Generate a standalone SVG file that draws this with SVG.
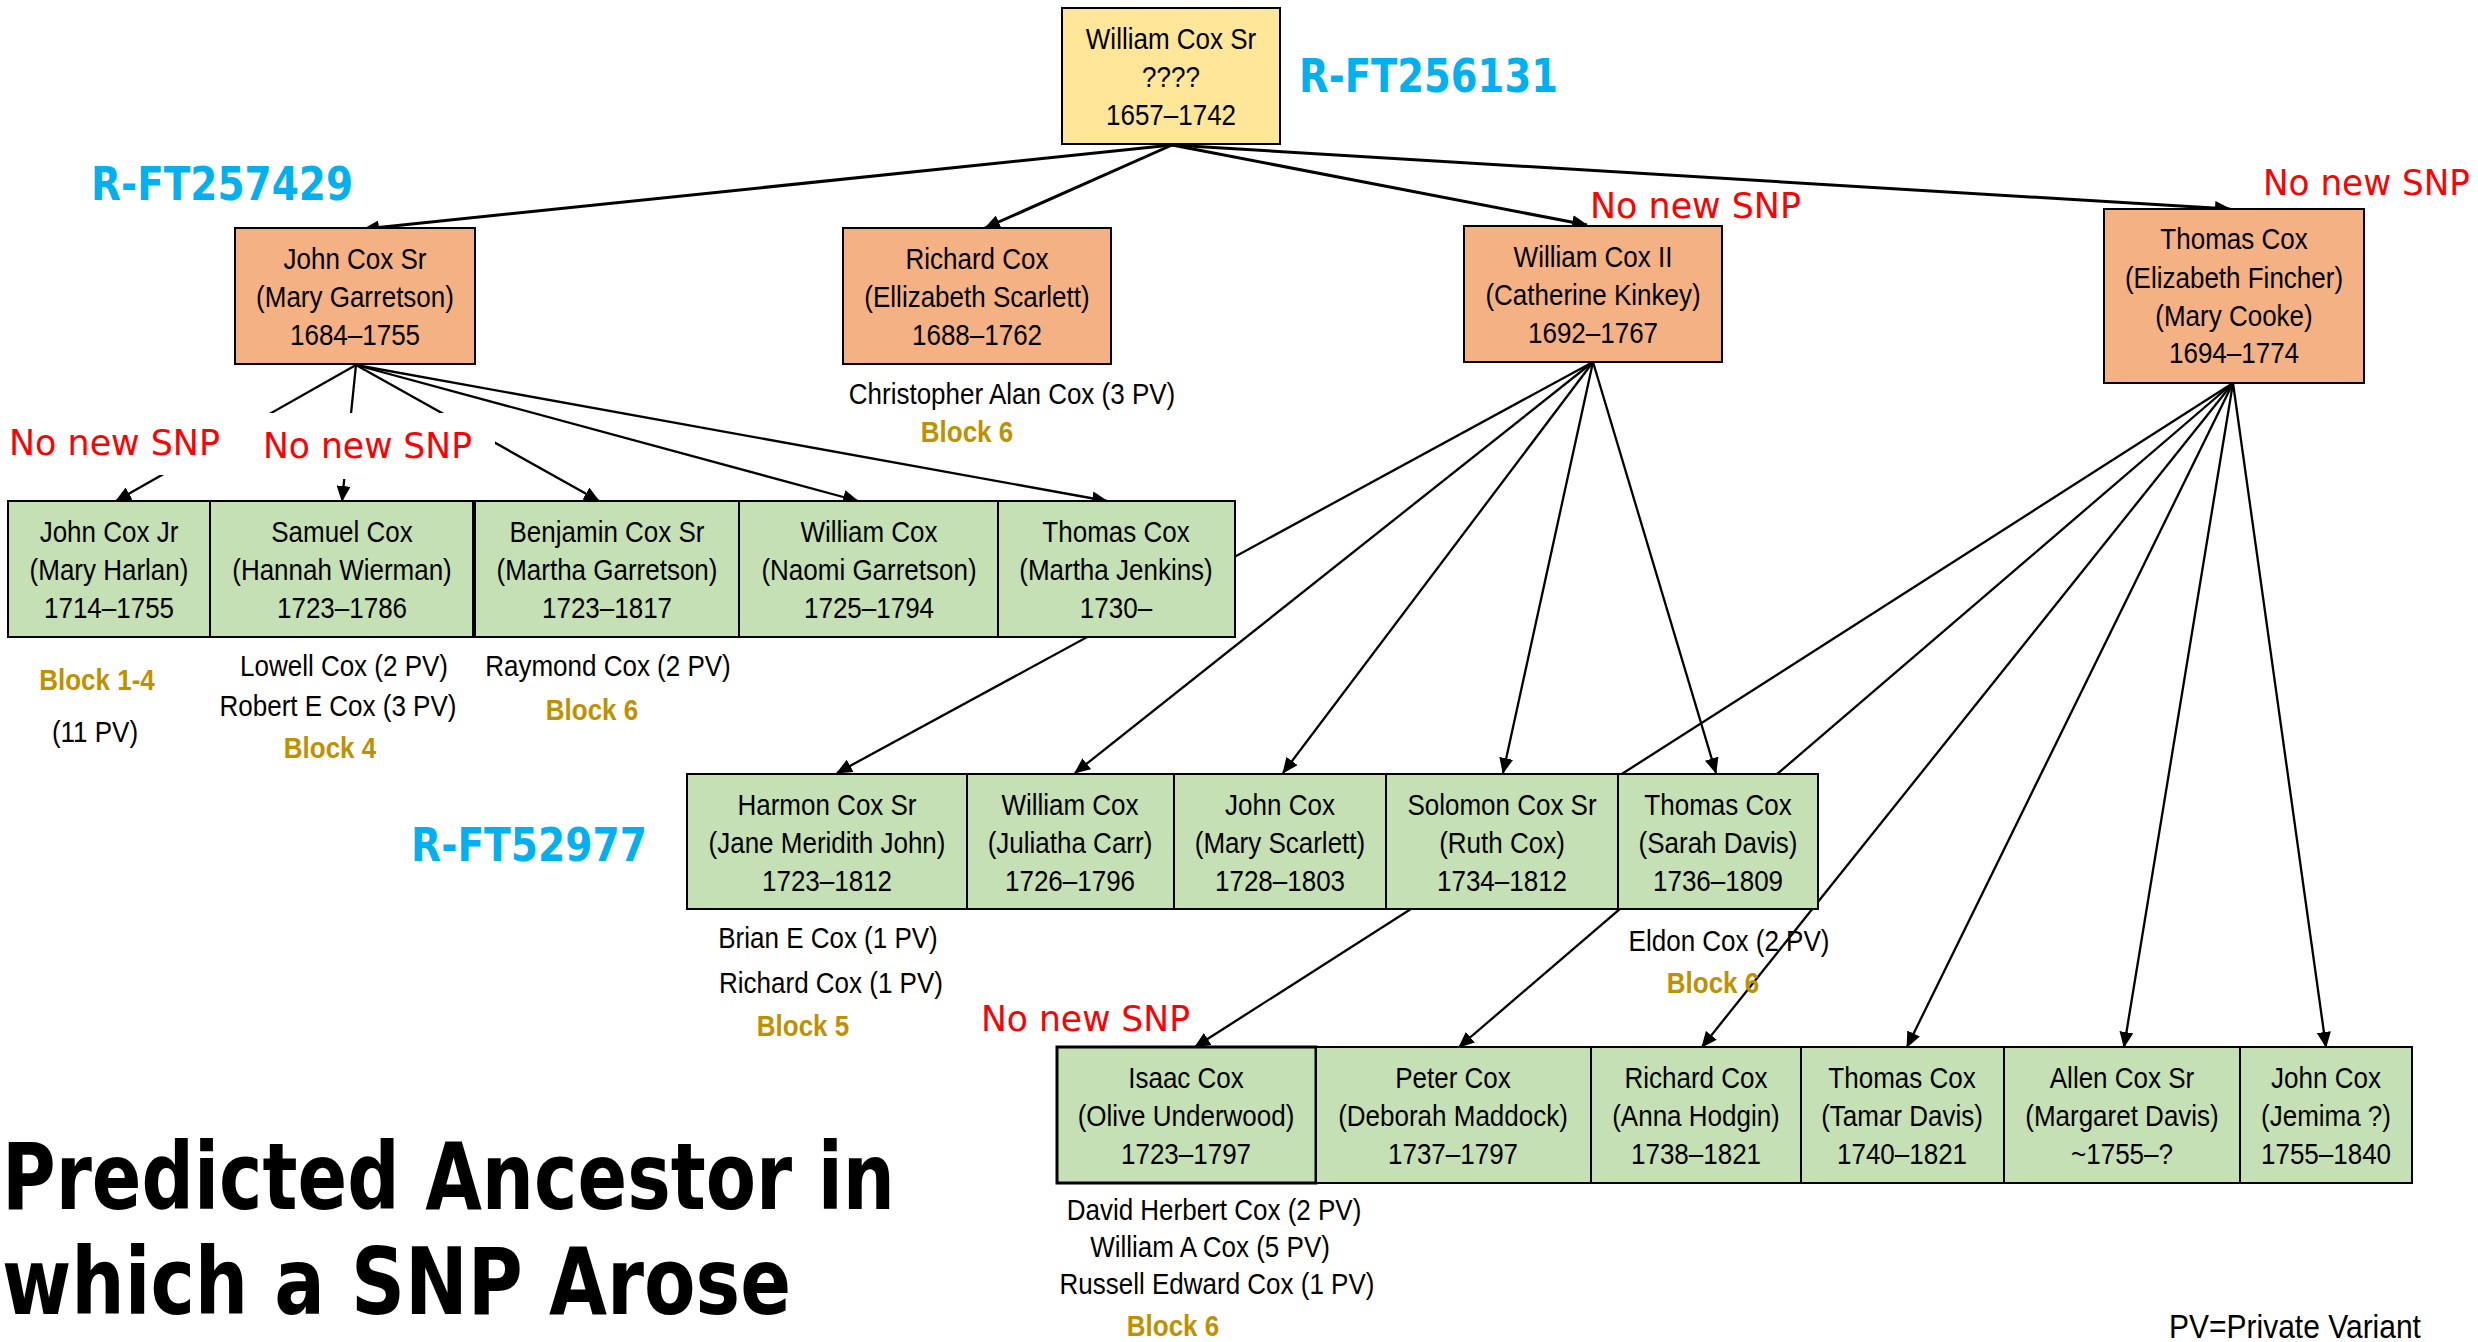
<svg xmlns="http://www.w3.org/2000/svg" width="2478" height="1342" viewBox="0 0 2478 1342">
<defs>
<marker id="arr" markerUnits="userSpaceOnUse" markerWidth="16" markerHeight="14" refX="15" refY="7" orient="auto">
<path d="M0,0 L16,7 L0,14 z" fill="#000"/>
</marker>
<style>
.box{stroke:#000;stroke-width:2}
.root{fill:#FFE699}
.gen1{fill:#F4B183}
.gen2{fill:#C5E0B4}
.t{font-family:"Liberation Sans",Arial,sans-serif;font-size:26px;fill:#000;text-anchor:middle}
.blk{font-family:"Liberation Sans",Arial,sans-serif;font-size:26px;font-weight:bold;fill:#BF9000;text-anchor:middle}
.snp{font-family:"DejaVu Sans",sans-serif;font-size:36px;fill:#FF0000}
.hap{font-family:"DejaVu Sans",sans-serif;font-size:46px;font-weight:bold;fill:#00B0F0}
.title{font-family:"DejaVu Sans",sans-serif;font-size:92px;font-weight:bold;fill:#000}
.c{fill:none;stroke:#000;marker-end:url(#arr)}
.c3{stroke-width:3}
.c2{stroke-width:2.3}
.mask{fill:#fff}
</style>
</defs>
<rect width="2478" height="1342" fill="#fff"/>

<g id="connectors">
<line class="c c3" x1="1172" y1="145" x2="364" y2="229"/>
<line class="c c3" x1="1172" y1="145" x2="985" y2="228"/>
<line class="c c3" x1="1172" y1="145" x2="1587" y2="225"/>
<line class="c c3" x1="1172" y1="145" x2="2230" y2="209"/>
<line class="c c2" x1="356" y1="365" x2="116" y2="501"/>
<line class="c c2" x1="356" y1="365" x2="342" y2="501"/>
<line class="c c2" x1="356" y1="365" x2="599" y2="501"/>
<line class="c c2" x1="356" y1="365" x2="858" y2="501"/>
<line class="c c2" x1="356" y1="365" x2="1107" y2="501"/>
<line class="c c2" x1="1593" y1="362" x2="837" y2="773"/>
<line class="c c2" x1="1593" y1="362" x2="1075" y2="773"/>
<line class="c c2" x1="1593" y1="362" x2="1283" y2="773"/>
<line class="c c2" x1="1593" y1="362" x2="1503" y2="773"/>
<line class="c c2" x1="1593" y1="362" x2="1716" y2="773"/>
<line class="c c2" x1="2233" y1="383" x2="1195" y2="1047"/>
<line class="c c2" x1="2233" y1="383" x2="1459" y2="1047"/>
<line class="c c2" x1="2233" y1="383" x2="1702" y2="1047"/>
<line class="c c2" x1="2233" y1="383" x2="1907" y2="1047"/>
<line class="c c2" x1="2233" y1="383" x2="2124" y2="1047"/>
<line class="c c2" x1="2233" y1="383" x2="2326" y2="1047"/>
</g>

<g id="n-william-cox-sr">
<rect class="box root" x="1062" y="8" width="218" height="136"/>
<text class="t" transform="translate(1171 49) scale(1 1.16)">William Cox Sr</text>
<text class="t" transform="translate(1171 87) scale(1 1.16)">????</text>
<text class="t" transform="translate(1171 125) scale(1 1.16)">1657–1742</text>
</g>

<g id="n-john-cox-sr">
<rect class="box gen1" x="235" y="228" width="240" height="136"/>
<text class="t" transform="translate(355 269) scale(1 1.16)">John Cox Sr</text>
<text class="t" transform="translate(355 307) scale(1 1.16)">(Mary Garretson)</text>
<text class="t" transform="translate(355 345) scale(1 1.16)">1684–1755</text>
</g>
<g id="n-richard-cox">
<rect class="box gen1" x="843" y="228" width="268" height="136"/>
<text class="t" transform="translate(977 269) scale(1 1.16)">Richard Cox</text>
<text class="t" transform="translate(977 307) scale(1 1.16)">(Ellizabeth Scarlett)</text>
<text class="t" transform="translate(977 345) scale(1 1.16)">1688–1762</text>
</g>
<g id="n-william-cox-ii">
<rect class="box gen1" x="1464" y="226" width="258" height="136"/>
<text class="t" transform="translate(1593 267) scale(1 1.16)">William Cox II</text>
<text class="t" transform="translate(1593 305) scale(1 1.16)">(Catherine Kinkey)</text>
<text class="t" transform="translate(1593 343) scale(1 1.16)">1692–1767</text>
</g>
<g id="n-thomas-cox-1694">
<rect class="box gen1" x="2104" y="209" width="260" height="174"/>
<text class="t" transform="translate(2234 249) scale(1 1.16)">Thomas Cox</text>
<text class="t" transform="translate(2234 288) scale(1 1.16)">(Elizabeth Fincher)</text>
<text class="t" transform="translate(2234 326) scale(1 1.16)">(Mary Cooke)</text>
<text class="t" transform="translate(2234 363) scale(1 1.16)">1694–1774</text>
</g>

<g id="n-john-cox-jr">
<rect class="box gen2" x="8" y="501" width="202" height="136"/>
<text class="t" transform="translate(109 542) scale(1 1.16)">John Cox Jr</text>
<text class="t" transform="translate(109 580) scale(1 1.16)">(Mary Harlan)</text>
<text class="t" transform="translate(109 618) scale(1 1.16)">1714–1755</text>
</g>
<g id="n-samuel-cox">
<rect class="box gen2" x="210" y="501" width="263" height="136"/>
<text class="t" transform="translate(342 542) scale(1 1.16)">Samuel Cox</text>
<text class="t" transform="translate(342 580) scale(1 1.16)">(Hannah Wierman)</text>
<text class="t" transform="translate(342 618) scale(1 1.16)">1723–1786</text>
</g>
<g id="n-benjamin-cox-sr">
<rect class="box gen2" x="475" y="501" width="264" height="136"/>
<text class="t" transform="translate(607 542) scale(1 1.16)">Benjamin Cox Sr</text>
<text class="t" transform="translate(607 580) scale(1 1.16)">(Martha Garretson)</text>
<text class="t" transform="translate(607 618) scale(1 1.16)">1723–1817</text>
</g>
<g id="n-william-cox-1725">
<rect class="box gen2" x="739" y="501" width="259" height="136"/>
<text class="t" transform="translate(869 542) scale(1 1.16)">William Cox</text>
<text class="t" transform="translate(869 580) scale(1 1.16)">(Naomi Garretson)</text>
<text class="t" transform="translate(869 618) scale(1 1.16)">1725–1794</text>
</g>
<g id="n-thomas-cox-1730">
<rect class="box gen2" x="998" y="501" width="237" height="136"/>
<text class="t" transform="translate(1116 542) scale(1 1.16)">Thomas Cox</text>
<text class="t" transform="translate(1116 580) scale(1 1.16)">(Martha Jenkins)</text>
<text class="t" transform="translate(1116 618) scale(1 1.16)">1730–</text>
</g>

<g id="n-harmon-cox-sr">
<rect class="box gen2" x="687" y="774" width="280" height="135"/>
<text class="t" transform="translate(827 815) scale(1 1.16)">Harmon Cox Sr</text>
<text class="t" transform="translate(827 853) scale(1 1.16)">(Jane Meridith John)</text>
<text class="t" transform="translate(827 891) scale(1 1.16)">1723–1812</text>
</g>
<g id="n-william-cox-1726">
<rect class="box gen2" x="967" y="774" width="207" height="135"/>
<text class="t" transform="translate(1070 815) scale(1 1.16)">William Cox</text>
<text class="t" transform="translate(1070 853) scale(1 1.16)">(Juliatha Carr)</text>
<text class="t" transform="translate(1070 891) scale(1 1.16)">1726–1796</text>
</g>
<g id="n-john-cox-1728">
<rect class="box gen2" x="1174" y="774" width="212" height="135"/>
<text class="t" transform="translate(1280 815) scale(1 1.16)">John Cox</text>
<text class="t" transform="translate(1280 853) scale(1 1.16)">(Mary Scarlett)</text>
<text class="t" transform="translate(1280 891) scale(1 1.16)">1728–1803</text>
</g>
<g id="n-solomon-cox-sr">
<rect class="box gen2" x="1386" y="774" width="232" height="135"/>
<text class="t" transform="translate(1502 815) scale(1 1.16)">Solomon Cox Sr</text>
<text class="t" transform="translate(1502 853) scale(1 1.16)">(Ruth Cox)</text>
<text class="t" transform="translate(1502 891) scale(1 1.16)">1734–1812</text>
</g>
<g id="n-thomas-cox-1736">
<rect class="box gen2" x="1618" y="774" width="200" height="135"/>
<text class="t" transform="translate(1718 815) scale(1 1.16)">Thomas Cox</text>
<text class="t" transform="translate(1718 853) scale(1 1.16)">(Sarah Davis)</text>
<text class="t" transform="translate(1718 891) scale(1 1.16)">1736–1809</text>
</g>

<g id="n-isaac-cox">
<rect class="box gen2" x="1057" y="1047" width="259" height="136" style="stroke-width:3"/>
<text class="t" transform="translate(1186 1088) scale(1 1.16)">Isaac Cox</text>
<text class="t" transform="translate(1186 1126) scale(1 1.16)">(Olive Underwood)</text>
<text class="t" transform="translate(1186 1164) scale(1 1.16)">1723–1797</text>
</g>
<g id="n-peter-cox">
<rect class="box gen2" x="1316" y="1047" width="275" height="136"/>
<text class="t" transform="translate(1453 1088) scale(1 1.16)">Peter Cox</text>
<text class="t" transform="translate(1453 1126) scale(1 1.16)">(Deborah Maddock)</text>
<text class="t" transform="translate(1453 1164) scale(1 1.16)">1737–1797</text>
</g>
<g id="n-richard-cox-1738">
<rect class="box gen2" x="1591" y="1047" width="210" height="136"/>
<text class="t" transform="translate(1696 1088) scale(1 1.16)">Richard Cox</text>
<text class="t" transform="translate(1696 1126) scale(1 1.16)">(Anna Hodgin)</text>
<text class="t" transform="translate(1696 1164) scale(1 1.16)">1738–1821</text>
</g>
<g id="n-thomas-cox-1740">
<rect class="box gen2" x="1801" y="1047" width="203" height="136"/>
<text class="t" transform="translate(1902 1088) scale(1 1.16)">Thomas Cox</text>
<text class="t" transform="translate(1902 1126) scale(1 1.16)">(Tamar Davis)</text>
<text class="t" transform="translate(1902 1164) scale(1 1.16)">1740–1821</text>
</g>
<g id="n-allen-cox-sr">
<rect class="box gen2" x="2004" y="1047" width="236" height="136"/>
<text class="t" transform="translate(2122 1088) scale(1 1.16)">Allen Cox Sr</text>
<text class="t" transform="translate(2122 1126) scale(1 1.16)">(Margaret Davis)</text>
<text class="t" transform="translate(2122 1164) scale(1 1.16)">~1755–?</text>
</g>
<g id="n-john-cox-1755">
<rect class="box gen2" x="2240" y="1047" width="172" height="136"/>
<text class="t" transform="translate(2326 1088) scale(1 1.16)">John Cox</text>
<text class="t" transform="translate(2326 1126) scale(1 1.16)">(Jemima ?)</text>
<text class="t" transform="translate(2326 1164) scale(1 1.16)">1755–1840</text>
</g>

<g id="labels">
<rect class="mask" x="0" y="405" width="255" height="70"/>
<rect class="mask" x="255" y="413" width="240" height="66"/>
<text class="snp" x="9" y="455" textLength="211" lengthAdjust="spacingAndGlyphs">No new SNP</text>
<text class="snp" x="263" y="458" textLength="209" lengthAdjust="spacingAndGlyphs">No new SNP</text>
<text class="snp" x="1590" y="218" textLength="211" lengthAdjust="spacingAndGlyphs">No new SNP</text>
<text class="snp" x="2263" y="195" textLength="207" lengthAdjust="spacingAndGlyphs">No new SNP</text>
<text class="snp" x="981" y="1031" textLength="209" lengthAdjust="spacingAndGlyphs">No new SNP</text>

<text class="hap" x="1299" y="92" textLength="259" lengthAdjust="spacingAndGlyphs">R-FT256131</text>
<text class="hap" x="91" y="200" textLength="262" lengthAdjust="spacingAndGlyphs">R-FT257429</text>
<text class="hap" x="411" y="861" textLength="236" lengthAdjust="spacingAndGlyphs">R-FT52977</text>

<text class="t" transform="translate(1012 404) scale(1 1.16)">Christopher Alan Cox (3 PV)</text>
<text class="blk" transform="translate(967 442) scale(1 1.16)">Block 6</text>

<text class="blk" transform="translate(97 690) scale(1 1.16)">Block 1-4</text>
<text class="t" transform="translate(95 742) scale(1 1.16)">(11 PV)</text>
<text class="t" transform="translate(344 676) scale(1 1.16)">Lowell Cox (2 PV)</text>
<text class="t" transform="translate(338 716) scale(1 1.16)">Robert E Cox (3 PV)</text>
<text class="blk" transform="translate(330 758) scale(1 1.16)">Block 4</text>
<text class="t" transform="translate(608 676) scale(1 1.16)">Raymond Cox (2 PV)</text>
<text class="blk" transform="translate(592 720) scale(1 1.16)">Block 6</text>

<text class="t" transform="translate(828 948) scale(1 1.16)">Brian E Cox (1 PV)</text>
<text class="t" transform="translate(831 993) scale(1 1.16)">Richard Cox (1 PV)</text>
<text class="blk" transform="translate(803 1036) scale(1 1.16)">Block 5</text>
<text class="t" transform="translate(1729 951) scale(1 1.16)">Eldon Cox (2 PV)</text>
<text class="blk" transform="translate(1713 993) scale(1 1.16)">Block 6</text>

<text class="t" transform="translate(1214 1220) scale(1 1.12)">David Herbert Cox (2 PV)</text>
<text class="t" transform="translate(1210 1257) scale(1 1.12)">William A Cox (5 PV)</text>
<text class="t" transform="translate(1217 1294) scale(1 1.12)">Russell Edward Cox (1 PV)</text>
<text class="blk" transform="translate(1173 1336) scale(1 1.16)">Block 6</text>
<text class="t" style="font-size:30px" transform="translate(2295 1338) scale(1 1.1)">PV=Private Variant</text>

<text class="title" x="2" y="1209" textLength="893" lengthAdjust="spacingAndGlyphs">Predicted Ancestor in</text>
<text class="title" x="2" y="1314" textLength="789" lengthAdjust="spacingAndGlyphs">which a SNP Arose</text>
</g>
</svg>
